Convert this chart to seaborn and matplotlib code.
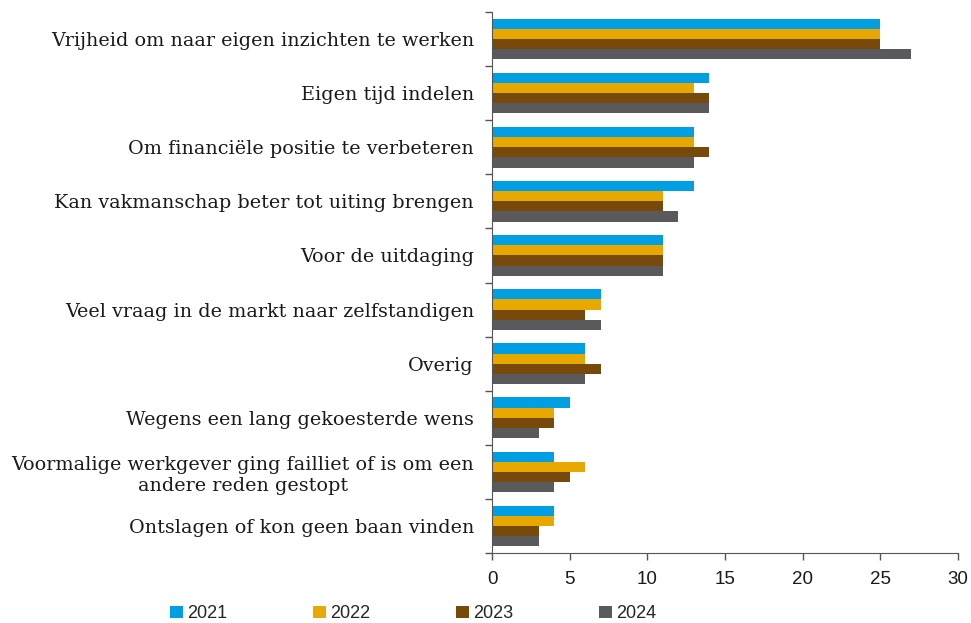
import matplotlib.pyplot as plt
import seaborn as sns
import pandas as pd
from matplotlib.patches import Patch
from matplotlib.ticker import FixedLocator


categories = [
    "Vrijheid om naar eigen inzichten te werken",
    "Eigen tijd indelen",
    "Om financiële positie te verbeteren",
    "Kan vakmanschap beter tot uiting brengen",
    "Voor de uitdaging",
    "Veel vraag in de markt naar zelfstandigen",
    "Overig",
    "Wegens een lang gekoesterde wens",
    "Voormalige werkgever ging failliet of is om een\nandere reden gestopt",
    "Ontslagen of kon geen baan vinden",
]

years = ["2021", "2022", "2023", "2024"]

v2021 = [25, 14, 13, 13, 11, 7, 6, 5, 4, 4]
v2022 = [25, 13, 13, 11, 11, 7, 6, 4, 6, 4]
v2023 = [25, 14, 14, 11, 11, 6, 7, 4, 5, 3]
v2024 = [27, 14, 13, 12, 11, 7, 6, 3, 4, 3]

colors = ["#009FE3", "#E8A800", "#774A0B", "#5A5A5C"]


rows = []
for year, vals in zip(years, [v2021, v2022, v2023, v2024]):
    for cat, v in zip(categories, vals):
        rows.append({"cat": cat, "year": year, "value": v})
df = pd.DataFrame(rows)


sns.set_style("white")

fig = plt.figure(figsize=(9.71, 6.23), dpi=100)
ax = fig.add_axes([492 / 971, 1 - 553 / 623, (958 - 492) / 971, (553 - 12) / 623])

sns.barplot(
    data=df,
    y="cat",
    x="value",
    hue="year",
    order=categories,
    hue_order=years,
    palette=colors,
    saturation=1,
    orient="h",
    width=0.75,
    gap=0,
    linewidth=0,
    edgecolor="none",
    legend=False,
    ax=ax,
)

ax.set_xlim(0, 30)
ax.set_ylim(len(categories) - 0.5, -0.5)
ax.set_xticks([0, 5, 10, 15, 20, 25, 30])
ax.set_xlabel("")
ax.set_ylabel("")

ax.yaxis.set_minor_locator(FixedLocator([i - 0.5 for i in range(len(categories) + 1)]))
ax.tick_params(axis="y", which="major", left=False, length=0, pad=13)
ax.tick_params(axis="y", which="minor", left=True, length=5, width=1, color="#555555", direction="out")
ax.tick_params(axis="x", bottom=True, length=5, width=1, color="#555555", direction="out", pad=8)

for label in ax.get_yticklabels():
    label.set_fontfamily("DejaVu Serif")
    label.set_fontsize(13.8)
    label.set_color("#1a1a1a")
    label.set_multialignment("center")

for label in ax.get_xticklabels():
    label.set_fontfamily("Liberation Sans")
    label.set_fontsize(13.5)
    label.set_color("#1a1a1a")

sns.despine(ax=ax, top=True, right=True)
ax.spines["left"].set_color("#555555")
ax.spines["bottom"].set_color("#555555")


handles = [Patch(facecolor=c, edgecolor="none") for c in colors]
fig.legend(
    handles,
    years,
    loc="lower left",
    bbox_to_anchor=(154 / 971, -0.025),
    ncol=4,
    frameon=False,
    handlelength=0.7,
    handleheight=0.7,
    handletextpad=0.25,
    columnspacing=4.75,
    prop={"family": "Liberation Sans", "size": 13},
)

fig.savefig("out.png", dpi=100)
